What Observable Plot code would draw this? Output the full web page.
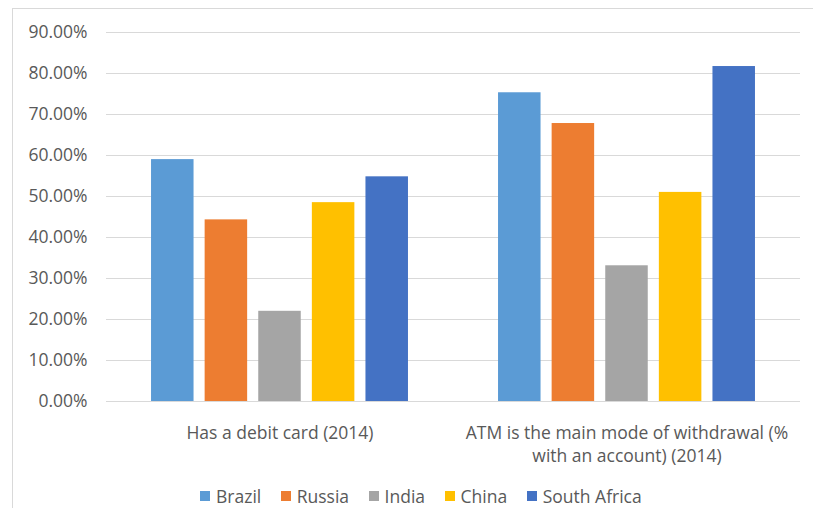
<!DOCTYPE html>
<html>
<head>
<meta charset="utf-8">
<script src="https://cdn.jsdelivr.net/npm/d3@7"></script>
<script src="https://cdn.jsdelivr.net/npm/@observablehq/plot@0.6"></script>
<style>
  html, body { margin: 0; padding: 0; background: #fff; width: 813px; height: 508px; overflow: hidden; }
  #wrap { position: relative; width: 813px; height: 508px; overflow: hidden; font-family: "Open Sans", sans-serif; }
  #frame { position: absolute; left: 12px; top: 8px; width: 900px; height: 600px; border: 1px solid #d9d9d9; box-sizing: border-box; }
  #chart { position: absolute; left: 0; top: 0; }
  #legend { position: absolute; left: 200px; top: 484px; }
  #legend .lg-swatches, #legend > div { font-family: "Open Sans", sans-serif !important; font-size: 17.5px !important; color: #595959 !important; margin: 0 !important; min-height: 22px; }
  #legend .lg-swatch { margin-right: 19.5px !important; }
  #legend .lg-swatch > svg { margin-right: 6px !important; }
</style>
</head>
<body>
<div id="wrap">
  <div id="frame"></div>
  <div id="chart"></div>
  <div id="legend"></div>
</div>
<script>
const categories = ["Has a debit card (2014)", "ATM is the main mode of withdrawal (% with an account) (2014)"];
const categoryLabels = ["Has a debit card (2014)", "ATM is the main mode of withdrawal (%\nwith an account) (2014)"];
const countries = ["Brazil", "Russia", "India", "China", "South Africa"];
const colors = ["#5b9bd5", "#ed7d31", "#a5a5a5", "#ffc000", "#4472c4"];
const debitCard = [0.590, 0.443, 0.220, 0.485, 0.548];
const atmMain = [0.753, 0.678, 0.331, 0.510, 0.817];
const yTicks = [0, 0.1, 0.2, 0.3, 0.4, 0.5, 0.6, 0.7, 0.8, 0.9];

const series = [debitCard, atmMain];
const data = [];
categories.forEach((cat, i) => {
  countries.forEach((c, j) => data.push({category: cat, country: c, value: series[i][j]}));
});

const fmt = d => (d * 100).toFixed(2) + "%";
const labelOf = new Map(categories.map((c, i) => [c, categoryLabels[i]]));

const plot = Plot.plot({
  width: 813,
  height: 475,
  marginLeft: 106,
  marginRight: 13,
  marginTop: 32,
  marginBottom: 74,
  style: {fontFamily: "Open Sans, sans-serif", fontSize: "17.5px", color: "#595959", background: "transparent"},
  fx: {domain: categories, padding: 0, round: false, label: null},
  x: {domain: countries, paddingInner: 0.207, paddingOuter: 0.84, round: false, axis: null},
  y: {domain: [0, 0.9], label: null},
  color: {domain: countries, range: colors},
  marks: [
    Plot.gridY(yTicks, {stroke: "#d9d9d9", strokeOpacity: 1, strokeWidth: 1}),
    Plot.barY(data, {fx: "category", x: "country", y: "value", fill: "country"}),
    Plot.axisY(yTicks, {tickSize: 0, tickPadding: 19, tickFormat: fmt, fontSize: 17.5, fill: "#595959", label: null}),
    Plot.axisFx({anchor: "bottom", tickSize: 0, tickPadding: 20, tickFormat: d => labelOf.get(d), fontSize: 17.5, lineHeight: 1.37, fill: "#595959", label: null})
  ]
});
document.getElementById("chart").appendChild(plot);

const legend = Plot.legend({
  color: {domain: countries, range: colors},
  swatchSize: 10,
  className: "lg"
});
document.getElementById("legend").appendChild(legend);
</script>
</body>
</html>
